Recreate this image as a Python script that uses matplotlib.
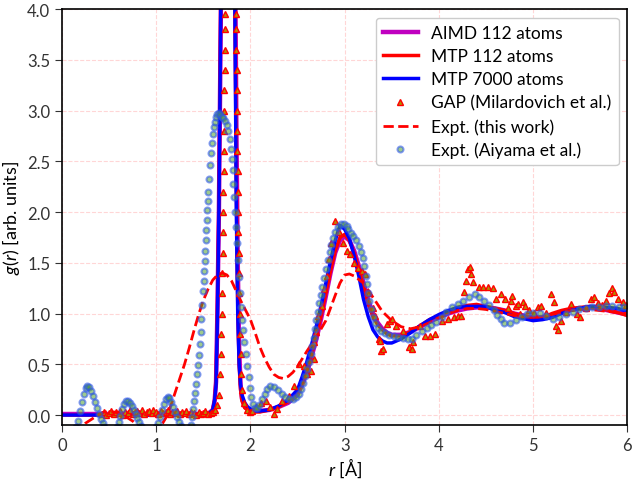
import numpy as np
import matplotlib
matplotlib.use("Agg")
import matplotlib.pyplot as plt

plt.rcParams['font.family'] = ['Lato', 'DejaVu Sans']
plt.rcParams['mathtext.fontset'] = 'custom'
plt.rcParams['mathtext.rm'] = 'Lato'
plt.rcParams['mathtext.it'] = 'Lato:italic'

# simulated g(r) curves on a common r grid
r_line = [0.0, 0.5, 1.0, 1.5, 1.56, 1.60, 1.62, 1.635, 1.65, 1.665,
          1.685, 1.70, 1.72, 1.74, 1.76, 1.78, 1.80, 1.82, 1.835, 1.85,
          1.865, 1.88, 1.895, 1.91, 1.94, 1.97, 2.0, 2.05, 2.1, 2.2,
          2.3, 2.4, 2.5, 2.55, 2.6, 2.65, 2.7, 2.75, 2.8, 2.85,
          2.9, 2.95, 3.0, 3.05, 3.1, 3.15, 3.2, 3.25, 3.3, 3.35,
          3.4, 3.45, 3.5, 3.6, 3.7, 3.8, 3.9, 4.0, 4.1, 4.2,
          4.3, 4.4, 4.5, 4.6, 4.7, 4.8, 4.9, 5.0, 5.1, 5.2,
          5.3, 5.4, 5.5, 5.6, 5.7, 5.8, 5.9, 6.0]

g_aimd = [0.01, 0.01, 0.01, 0.01, 0.02, 0.05, 0.14, 0.33, 1.05, 2.0,
          3.9, 5.9, 8.2, 9.6, 9.9, 9.3, 7.9, 6.2, 4.8, 2.9,
          1.5, 0.65, 0.3, 0.16, 0.08, 0.06, 0.05, 0.04, 0.04, 0.05,
          0.08, 0.12, 0.2, 0.3, 0.42, 0.58, 0.75, 0.95, 1.17, 1.4,
          1.6, 1.72, 1.76, 1.72, 1.62, 1.47, 1.3, 1.13, 1.0, 0.91,
          0.85, 0.81, 0.79, 0.79, 0.82, 0.87, 0.92, 0.96, 1.0, 1.03,
          1.05, 1.06, 1.06, 1.05, 1.03, 1.0, 0.98, 0.96, 0.96, 0.98,
          1.01, 1.04, 1.05, 1.06, 1.05, 1.03, 1.01, 0.99]

g_mtp112 = [0.0, 0.0, 0.0, 0.0, 0.01, 0.05, 0.15, 0.35, 1.1, 2.1,
            4.1, 6.2, 8.5, 9.9, 10.2, 9.5, 8.0, 5.9, 4.3, 2.3,
            1.1, 0.5, 0.25, 0.14, 0.07, 0.05, 0.04, 0.03, 0.03, 0.05,
            0.08, 0.13, 0.23, 0.32, 0.44, 0.60, 0.78, 0.98, 1.20, 1.42,
            1.62, 1.75, 1.78, 1.72, 1.60, 1.44, 1.27, 1.09, 0.97, 0.89,
            0.84, 0.80, 0.78, 0.78, 0.82, 0.88, 0.94, 0.98, 1.02, 1.06,
            1.08, 1.09, 1.07, 1.05, 1.03, 1.0, 0.97, 0.95, 0.96, 1.0,
            1.03, 1.05, 1.06, 1.07, 1.06, 1.03, 1.01, 0.98]

g_mtp7000 = [0.0, 0.0, 0.0, 0.0, 0.01, 0.05, 0.15, 0.3, 1.0, 2.0,
             4.0, 6.0, 8.3, 9.7, 10.0, 9.3, 7.8, 5.6, 4.0, 2.0,
             1.0, 0.5, 0.3, 0.2, 0.12, 0.08, 0.06, 0.04, 0.04, 0.05,
             0.09, 0.15, 0.25, 0.38, 0.53, 0.70, 0.88, 1.08, 1.30, 1.52,
             1.72, 1.87, 1.83, 1.74, 1.57, 1.37, 1.14, 0.97, 0.84, 0.77,
             0.73, 0.71, 0.71, 0.75, 0.81, 0.88, 0.94, 0.99, 1.03, 1.06,
             1.07, 1.07, 1.07, 1.03, 1.01, 0.97, 0.95, 0.93, 0.94, 0.96,
             1.0, 1.03, 1.05, 1.07, 1.07, 1.06, 1.05, 1.02]

# experiment (this work)
r_expt = [0.15, 0.2, 0.25, 0.3, 0.35, 0.4, 0.45, 0.5, 0.55, 0.6,
          0.65, 0.7, 0.75, 0.8, 0.85, 0.9, 0.95, 1.0, 1.05, 1.1,
          1.15, 1.2, 1.25, 1.3, 1.35, 1.4, 1.45, 1.5, 1.55, 1.6,
          1.65, 1.7, 1.75, 1.8, 1.85, 1.9, 1.95, 2.0, 2.05, 2.1,
          2.15, 2.2, 2.25, 2.3, 2.35, 2.4, 2.45, 2.5, 2.6, 2.7,
          2.8, 2.9, 2.95, 3.0, 3.05, 3.1, 3.2, 3.3, 3.4, 3.5,
          3.6, 3.7, 3.8, 3.9, 4.0, 4.1, 4.2, 4.3, 4.4, 4.5,
          4.6, 4.7, 4.8, 4.9, 5.0, 5.1, 5.2, 5.3, 5.4, 5.5,
          5.6, 5.7, 5.8, 5.9, 6.0]
g_expt = [-0.2, -0.14, -0.08, -0.05, -0.02, 0.01, 0.03, 0.03, 0.03, 0.02,
          0.0, -0.03, -0.06, -0.1, -0.13, -0.15, -0.15, -0.14, -0.11, -0.03,
          0.08, 0.22, 0.36, 0.5, 0.66, 0.83, 0.99, 1.13, 1.24, 1.33,
          1.38, 1.4, 1.38, 1.32, 1.22, 1.12, 1.03, 0.94, 0.81, 0.67,
          0.56, 0.47, 0.4, 0.37, 0.36, 0.38, 0.42, 0.48, 0.63, 0.77,
          0.93, 1.18, 1.3, 1.38, 1.39, 1.37, 1.3, 1.16, 1.02, 0.93,
          0.87, 0.85, 0.87, 0.91, 0.96, 1.0, 1.03, 1.05, 1.05, 1.04,
          1.02, 1.0, 0.98, 0.97, 0.96, 0.97, 0.99, 1.01, 1.03, 1.04,
          1.04, 1.03, 1.02, 1.01, 1.0]

# GAP (Milardovich et al.) points, (r, g)
gap_points = [
    (0.42, 0.01), (0.45, 0.03), (0.47, 0.0), (0.5, 0.02), (0.52, 0.04), (0.55, 0.01),
    (0.57, 0.03), (0.6, 0.02), (0.62, 0.04), (0.65, 0.0), (0.67, 0.03), (0.7, 0.02),
    (0.72, 0.05), (0.75, 0.01), (0.77, 0.03), (0.8, 0.04), (0.82, 0.02), (0.85, 0.05),
    (0.87, 0.01), (0.9, 0.03), (0.92, 0.04), (0.95, 0.02), (0.97, 0.05), (1.0, 0.03),
    (1.02, 0.01), (1.05, 0.04), (1.07, 0.02), (1.1, 0.03), (1.12, 0.05), (1.15, 0.01),
    (1.17, 0.03), (1.2, 0.02), (1.22, 0.04), (1.25, 0.01), (1.27, 0.03), (1.3, 0.02),
    (1.32, 0.04), (1.35, 0.01), (1.37, 0.03), (1.4, 0.02), (1.42, 0.0), (1.45, 0.03),
    (1.47, 0.01), (1.5, 0.02), (1.52, 0.04), (1.55, 0.01), (1.58, 0.02), (1.6, 0.03),
    (1.62, 0.05), (1.65, 0.1), (1.67, 0.2), (1.68, 0.4), (1.69, 0.6), (1.69, 0.8),
    (1.695, 1.0), (1.70, 1.2), (1.70, 1.4), (1.705, 1.6), (1.705, 1.8), (1.71, 2.0),
    (1.71, 2.2), (1.715, 2.4), (1.715, 2.6), (1.72, 2.8), (1.72, 3.0), (1.72, 3.2),
    (1.725, 3.4), (1.725, 3.6), (1.73, 3.8), (1.73, 3.95),
    (1.85, 3.95), (1.85, 3.8), (1.85, 3.6), (1.855, 3.4), (1.855, 3.2), (1.86, 3.0),
    (1.86, 2.8), (1.86, 2.6), (1.865, 2.4), (1.865, 2.2), (1.87, 2.0), (1.87, 1.8),
    (1.875, 1.6), (1.875, 1.4), (1.88, 1.2), (1.885, 1.0), (1.89, 0.8), (1.895, 0.6),
    (1.90, 0.4), (1.91, 0.25), (1.93, 0.12), (1.96, 0.05), (1.99, 0.03), (2.02, 0.04),
    (2.06, 0.08), (2.11, 0.12), (2.16, 0.14), (2.21, 0.08), (2.25, 0.01), (2.28, 0.06),
    (2.33, 0.14), (2.41, 0.19), (2.46, 0.29), (2.51, 0.5), (2.57, 0.48), (2.6, 0.4),
    (2.64, 0.43), (2.67, 0.55), (2.67, 0.72), (2.7, 0.82), (2.72, 0.98), (2.76, 1.07),
    (2.78, 1.24), (2.81, 1.37), (2.83, 1.54), (2.86, 1.7), (2.9, 1.91), (2.94, 1.8),
    (2.98, 1.7), (3.02, 1.62), (3.06, 1.59), (3.1, 1.5), (3.14, 1.45), (3.18, 1.42),
    (3.22, 1.39), (3.26, 1.2), (3.3, 1.05), (3.32, 0.98), (3.36, 0.75), (3.38, 0.73),
    (3.39, 0.63), (3.41, 0.65), (3.45, 0.9), (3.48, 0.93), (3.5, 0.95), (3.55, 0.88),
    (3.62, 0.83), (3.68, 0.67), (3.71, 0.65), (3.73, 0.72), (3.8, 0.88), (3.85, 0.78),
    (3.91, 0.78), (3.96, 0.8), (4.03, 0.93), (4.1, 0.95), (4.16, 0.97), (4.2, 0.98),
    (4.24, 0.98), (4.27, 1.21), (4.29, 1.32), (4.31, 1.44), (4.33, 1.46), (4.34, 1.39),
    (4.36, 1.31), (4.43, 1.26), (4.47, 1.26), (4.52, 1.26), (4.57, 1.25), (4.61, 1.14),
    (4.66, 1.19), (4.7, 1.14), (4.73, 1.05), (4.77, 1.12), (4.78, 1.17), (4.82, 1.07),
    (4.84, 1.09), (4.86, 1.0), (4.89, 1.11), (4.91, 1.07), (4.96, 1.03), (5.01, 1.01),
    (5.05, 1.06), (5.08, 1.07), (5.14, 1.01), (5.19, 1.19), (5.22, 1.11), (5.24, 0.88),
    (5.26, 0.84), (5.3, 0.93), (5.35, 1.02), (5.4, 1.09), (5.47, 1.0), (5.5, 0.97),
    (5.56, 1.05), (5.61, 1.14), (5.65, 1.16), (5.69, 1.1), (5.73, 1.08), (5.77, 1.12),
    (5.81, 1.2), (5.84, 1.25), (5.86, 1.21), (5.9, 1.14), (5.95, 1.11), (5.99, 1.08),
]

# Expt. (Aiyama et al.) points, (r, g)
aiyama_points = [
    (0.15, -0.12), (0.17, -0.06), (0.19, 0.04), (0.21, 0.13), (0.23, 0.21), (0.25, 0.27),
    (0.27, 0.29), (0.29, 0.28), (0.31, 0.24), (0.33, 0.19), (0.35, 0.13), (0.37, 0.07),
    (0.39, 0.01), (0.41, -0.04), (0.43, -0.08), (0.45, -0.12),
    (0.58, -0.12), (0.60, -0.07), (0.62, -0.01), (0.64, 0.06), (0.66, 0.11), (0.68, 0.14),
    (0.70, 0.14), (0.72, 0.12), (0.74, 0.09), (0.76, 0.05), (0.78, 0.01), (0.80, -0.03),
    (0.82, -0.07), (0.84, -0.11),
    (1.00, -0.12), (1.02, -0.08), (1.04, -0.02), (1.06, 0.05), (1.08, 0.11), (1.10, 0.16),
    (1.12, 0.18), (1.14, 0.17), (1.16, 0.13), (1.18, 0.08), (1.20, 0.03), (1.22, -0.02),
    (1.24, -0.07), (1.26, -0.11),
    (1.37, -0.10), (1.38, -0.02), (1.39, 0.06), (1.40, 0.14), (1.41, 0.22), (1.42, 0.31),
    (1.43, 0.40), (1.44, 0.49), (1.45, 0.59), (1.46, 0.70), (1.47, 0.82), (1.48, 0.95),
    (1.49, 1.08), (1.50, 1.22), (1.505, 1.32), (1.51, 1.42), (1.515, 1.52), (1.52, 1.62),
    (1.525, 1.72), (1.53, 1.82), (1.535, 1.92), (1.54, 2.02), (1.545, 2.11), (1.55, 2.20),
    (1.56, 2.33), (1.57, 2.46), (1.58, 2.58), (1.59, 2.68), (1.60, 2.77), (1.61, 2.84),
    (1.62, 2.89), (1.635, 2.94), (1.65, 2.97), (1.665, 2.98), (1.68, 2.96), (1.695, 2.94),
    (1.71, 2.93), (1.73, 2.90), (1.75, 2.86), (1.765, 2.80), (1.78, 2.72), (1.79, 2.62),
    (1.80, 2.52), (1.81, 2.41), (1.82, 2.28), (1.83, 2.15), (1.84, 2.00), (1.85, 1.85),
    (1.86, 1.70), (1.87, 1.53), (1.88, 1.36), (1.89, 1.20), (1.90, 1.06), (1.91, 0.94),
    (1.92, 0.84), (1.935, 0.72), (1.95, 0.60), (1.965, 0.48), (1.98, 0.37), (1.995, 0.27),
    (2.01, 0.18), (2.03, 0.11), (2.05, 0.07), (2.07, 0.07),
    (2.09, 0.10), (2.12, 0.16), (2.15, 0.21), (2.18, 0.26), (2.21, 0.29), (2.25, 0.28),
    (2.29, 0.25), (2.33, 0.21), (2.37, 0.18), (2.41, 0.16), (2.45, 0.16), (2.48, 0.18),
    (2.51, 0.21), (2.54, 0.26), (2.56, 0.32), (2.58, 0.38), (2.60, 0.45), (2.62, 0.52),
    (2.64, 0.60), (2.655, 0.68), (2.67, 0.76), (2.685, 0.85), (2.70, 0.94), (2.715, 1.02),
    (2.73, 1.10), (2.745, 1.18), (2.76, 1.26), (2.78, 1.35), (2.80, 1.44), (2.82, 1.53),
    (2.84, 1.61), (2.86, 1.68), (2.88, 1.74), (2.90, 1.80), (2.93, 1.85), (2.96, 1.88),
    (2.99, 1.88), (3.02, 1.86),
    (3.04, 1.83), (3.07, 1.79), (3.09, 1.76), (3.12, 1.72), (3.15, 1.67), (3.17, 1.61),
    (3.19, 1.55), (3.21, 1.47), (3.23, 1.37), (3.24, 1.29), (3.25, 1.20), (3.26, 1.12),
    (3.28, 1.04), (3.30, 0.97), (3.32, 0.91), (3.35, 0.86), (3.39, 0.83), (3.43, 0.81),
    (3.47, 0.79), (3.52, 0.78), (3.57, 0.77), (3.62, 0.76), (3.67, 0.75), (3.71, 0.75),
    (3.76, 0.79), (3.82, 0.83), (3.87, 0.86), (3.92, 0.89), (3.97, 0.92), (4.03, 0.97),
    (4.08, 1.02), (4.14, 1.06), (4.20, 1.09), (4.26, 1.12), (4.32, 1.16), (4.38, 1.19),
    (4.43, 1.16), (4.48, 1.12), (4.53, 1.08), (4.58, 1.03), (4.62, 0.99), (4.66, 0.95),
    (4.69, 0.91), (4.75, 0.91), (4.82, 0.94), (4.88, 0.97), (4.94, 1.00), (5.00, 1.01),
    (5.07, 1.01), (5.14, 0.98), (5.21, 0.95), (5.28, 0.97), (5.35, 1.00), (5.42, 1.02),
    (5.49, 1.04), (5.56, 1.05), (5.63, 1.06), (5.70, 1.06), (5.77, 1.07), (5.84, 1.07),
    (5.91, 1.06), (5.97, 1.06),
]

r_gap, g_gap = np.array(gap_points).T
r_aiy, g_aiy = np.array(aiyama_points).T

fig, ax = plt.subplots(figsize=(6.33, 4.81), dpi=100)
fig.subplots_adjust(left=0.098, right=0.991, top=0.979, bottom=0.114)

ax.plot(r_line, g_aimd, color='#c000c0', lw=3.2, label='AIMD 112 atoms')
ax.plot(r_line, g_mtp112, color='red', lw=2.5, label='MTP 112 atoms')
ax.plot(r_line, g_mtp7000, color='blue', lw=2.5, label='MTP 7000 atoms')
ax.plot(r_gap, g_gap, ls='none', marker='^', ms=4, mec='red', mfc='#b09000',
        mew=1.0, label='GAP (Milardovich et al.)')
ax.plot(r_expt, g_expt, color='red', lw=2, ls='--', label='Expt. (this work)')
ax.plot(r_aiy, g_aiy, ls='none', marker='o', ms=4.3, mec='#2850f0', mfc='#50a030',
        mew=1.5, alpha=0.55, label='Expt. (Aiyama et al.)')

ax.set_xlim(0, 6)
ax.set_ylim(-0.1, 4.0)
ax.set_yticks(np.arange(0, 4.01, 0.5))
ax.grid(True, ls='--', color='#ffd6d6', lw=0.8)
ax.set_axisbelow(True)

ax.set_xlabel(r'$r$ [Å]', fontsize=13, labelpad=2)
ax.set_ylabel(r'$g(r)$ [arb. units]', fontsize=13)
ax.tick_params(labelsize=12, colors='#333333', length=5)
for s in ax.spines.values():
    s.set_color('black')
    s.set_linewidth(1.2)

ax.legend(loc='upper right', fontsize=12.5, framealpha=1, edgecolor='#cccccc',
          handlelength=2.0, labelspacing=0.42, borderaxespad=0.5)

fig.savefig('out.png', dpi=100)
